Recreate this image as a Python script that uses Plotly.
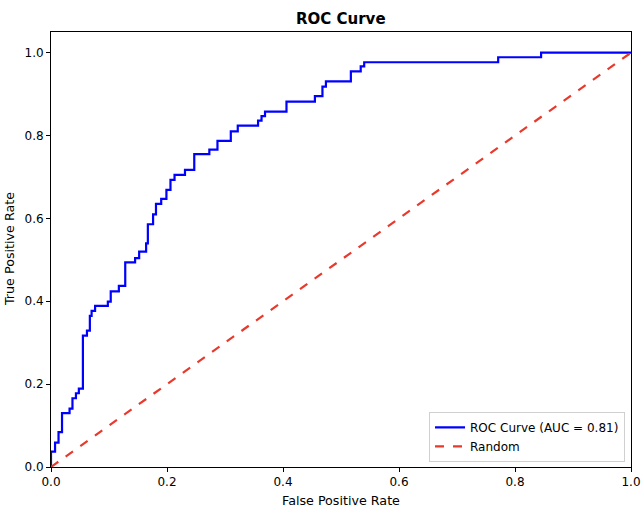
import plotly.graph_objects as go

# ROC step points (fpr where tpr jumps, and tpr level after jump)
fpr_steps = [0.0, 0.007, 0.013, 0.019, 0.032, 0.037, 0.043, 0.048, 0.055, 0.062,
             0.067, 0.070, 0.076, 0.098, 0.103, 0.117, 0.128, 0.145, 0.152, 0.164,
             0.167, 0.176, 0.181, 0.190, 0.199, 0.206, 0.213, 0.231, 0.247, 0.273,
             0.287, 0.310, 0.322, 0.357, 0.363, 0.369, 0.406, 0.455, 0.468, 0.474,
             0.517, 0.534, 0.540, 0.771, 0.845]
tpr_levels = [0.037, 0.059, 0.084, 0.130, 0.141, 0.166, 0.178, 0.189, 0.317, 0.329,
              0.365, 0.377, 0.389, 0.399, 0.424, 0.437, 0.494, 0.504, 0.520, 0.540,
              0.586, 0.610, 0.635, 0.647, 0.669, 0.693, 0.705, 0.717, 0.755, 0.766,
              0.787, 0.810, 0.824, 0.836, 0.847, 0.858, 0.882, 0.895, 0.918, 0.931,
              0.955, 0.967, 0.977, 0.989, 1.0]
auc_value = 0.81
random_x = [0, 1]
random_y = [0, 1]
x_ticks = [0.0, 0.2, 0.4, 0.6, 0.8, 1.0]
y_ticks = [0.0, 0.2, 0.4, 0.6, 0.8, 1.0]

# build ROC vertex list
roc_x = [0.0]
roc_y = [0.0]
prev = 0.0
for f, t in zip(fpr_steps, tpr_levels):
    roc_x += [f, f]
    roc_y += [prev, t]
    prev = t
roc_x.append(1.0)
roc_y.append(prev)

font_family = "DejaVu Sans"

fig = go.Figure()
fig.add_trace(go.Scatter(x=roc_x, y=roc_y, mode="lines",
                         line=dict(color="#0000ff", width=2.2),
                         name=f"ROC Curve (AUC = {auc_value:.2f})"))
fig.add_trace(go.Scatter(x=random_x, y=random_y, mode="lines",
                         line=dict(color="#e8392c", width=2.2, dash="dash"),
                         name="Random"))

axis_common = dict(showline=True, linecolor="black", linewidth=1, mirror=True,
                   ticks="outside", ticklen=4, tickcolor="black", showgrid=False,
                   zeroline=False, automargin=False,
                   tickfont=dict(family=font_family, size=12, color="black"))

fig.update_layout(
    width=642, height=510,
    margin=dict(l=51, r=11, t=32, b=43),
    paper_bgcolor="white", plot_bgcolor="white",
    font=dict(family=font_family, size=12, color="black"),
    showlegend=True,
    legend=dict(x=0.9897, y=0.012, xanchor="right", yanchor="bottom",
                bgcolor="rgba(255,255,255,0.8)", bordercolor="#d0d0d0", borderwidth=1,
                font=dict(family=font_family, size=12)),
    xaxis=dict(range=[0, 1], tickvals=x_ticks, ticktext=[f"{v:.1f}" for v in x_ticks],
               **axis_common),
    yaxis=dict(range=[0, 1.05], tickvals=y_ticks, ticktext=[f"{v:.1f}" for v in y_ticks],
               **axis_common),
    annotations=[
        dict(text="<b>ROC Curve</b>", xref="paper", yref="paper", x=0.5, y=1.031,
             xanchor="center", yanchor="middle", showarrow=False,
             font=dict(family=font_family, size=15, color="black")),
        dict(text="True Positive Rate", xref="paper", yref="paper", x=-0.0715, y=0.5,
             xanchor="center", yanchor="middle", textangle=-90, showarrow=False,
             font=dict(family=font_family, size=12.7, color="black")),
        dict(text="False Positive Rate", xref="paper", yref="paper", x=0.5, y=-0.076,
             xanchor="center", yanchor="middle", showarrow=False,
             font=dict(family=font_family, size=12.7, color="black")),
    ],
)

fig.write_html("out.html")
